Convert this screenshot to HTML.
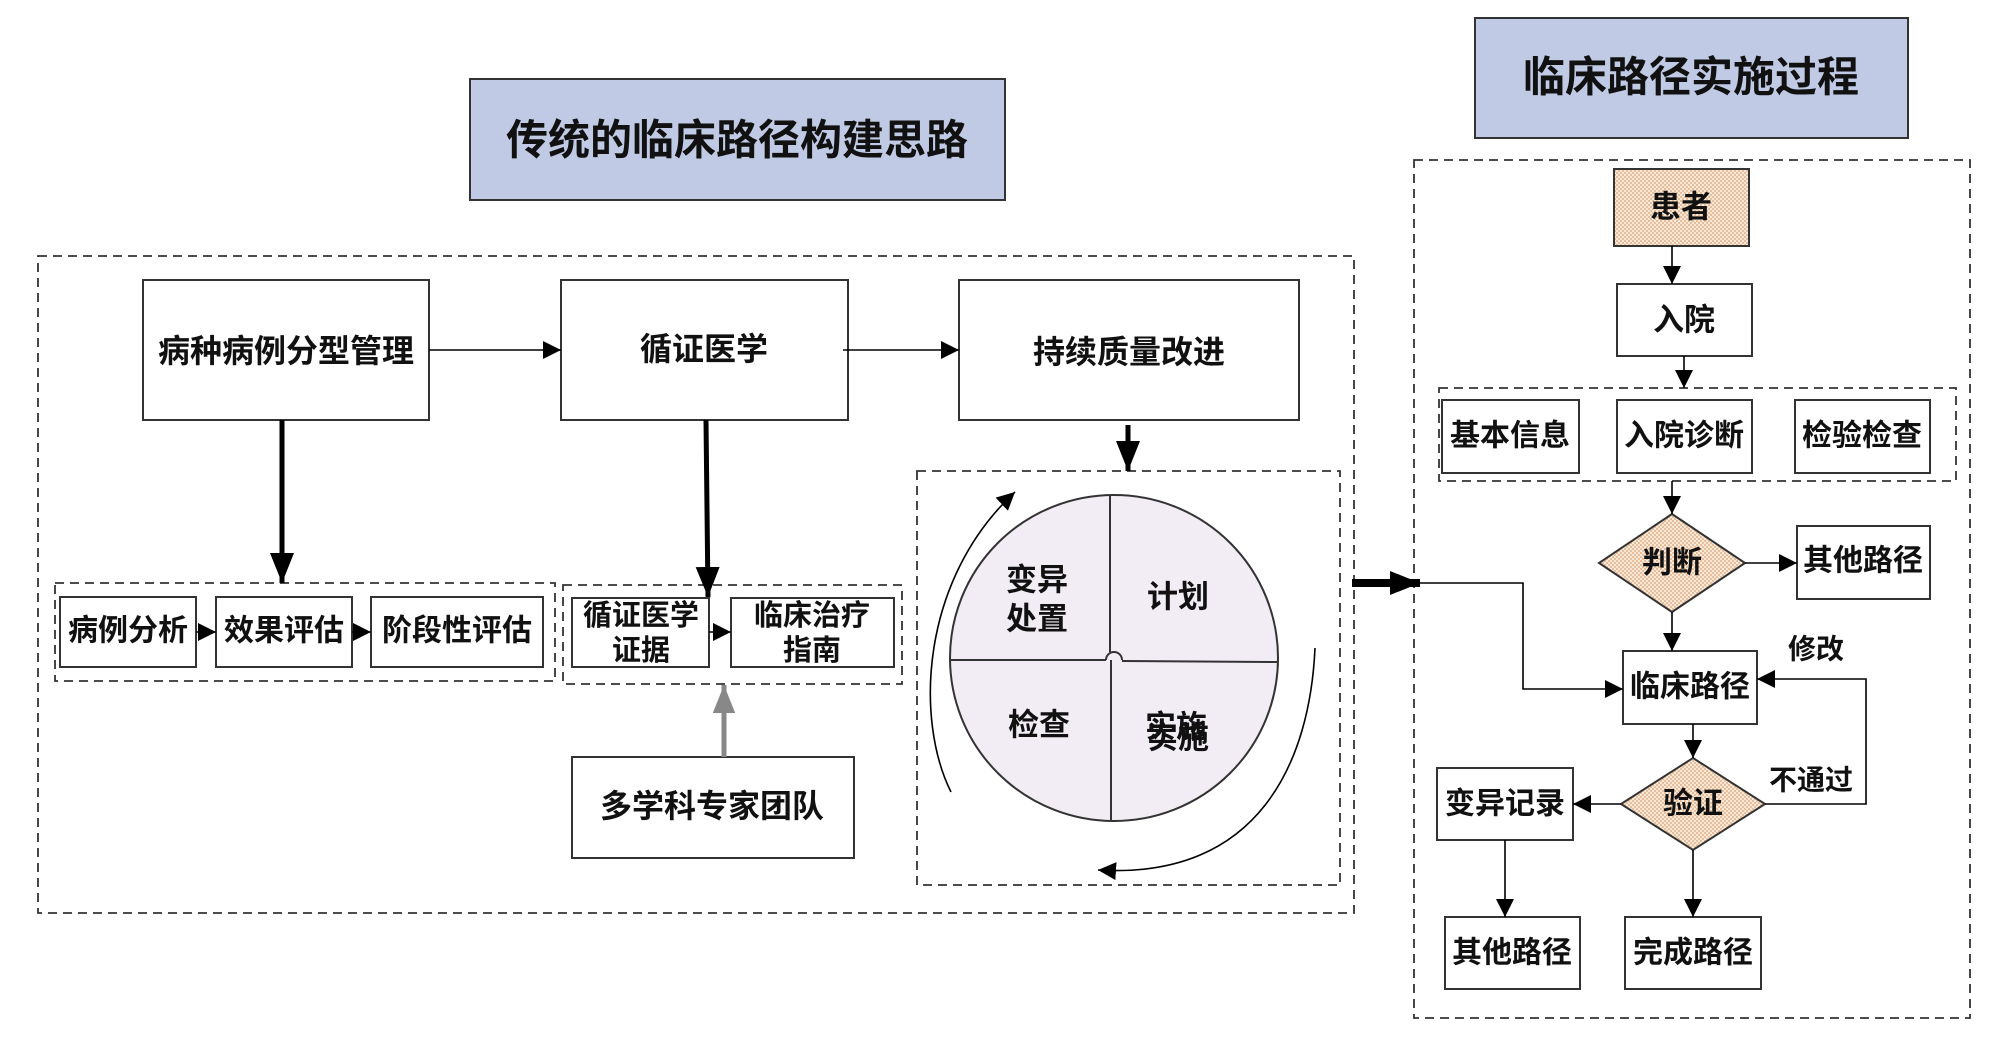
<!DOCTYPE html>
<html><head><meta charset="utf-8"><style>
html,body{margin:0;padding:0;background:#fff}
svg{display:block}
text{font-family:"Liberation Sans","Noto Sans CJK SC",sans-serif;fill:#111;text-anchor:middle;dominant-baseline:central;font-weight:600}
</style></head><body>
<svg width="2008" height="1052" viewBox="0 0 2008 1052" xmlns="http://www.w3.org/2000/svg">
<defs>
<marker id="a" viewBox="0 0 10 10" refX="10" refY="5" markerWidth="18" markerHeight="18" markerUnits="userSpaceOnUse" orient="auto"><path d="M0,0 L10,5 L0,10 z" fill="#000"/></marker>
<marker id="ab" viewBox="0 0 10 10" refX="10" refY="5" markerWidth="30" markerHeight="30" markerUnits="userSpaceOnUse" orient="auto"><path d="M0,1 L10,5 L0,9 z" fill="#000"/></marker>
<marker id="abb" viewBox="0 0 10 10" refX="10" refY="5" markerWidth="50" markerHeight="50" markerUnits="userSpaceOnUse" orient="auto"><path d="M0,1 L10,5 L0,9 z" fill="#000"/></marker>
<marker id="ag" viewBox="0 0 10 10" refX="10" refY="5" markerWidth="28" markerHeight="28" markerUnits="userSpaceOnUse" orient="auto"><path d="M0,1 L10,5 L0,9 z" fill="#888"/></marker>
<pattern id="dot" width="4" height="4" patternUnits="userSpaceOnUse"><rect width="4" height="4" fill="#f8e8d8"/><circle cx="1" cy="1" r="0.9" fill="#d9a070"/><circle cx="3" cy="3" r="0.9" fill="#d9a070"/></pattern>
</defs>
<g stroke="#333" stroke-width="2" fill="none">
<rect x="470" y="79" width="535" height="121" fill="#c1cae4"/>
<rect x="1475" y="18" width="433" height="120" fill="#c1cae4"/>
<g stroke-dasharray="9,6" stroke-width="1.8">
<rect x="38" y="256" width="1316" height="657"/>
<rect x="55" y="583" width="500" height="98"/>
<rect x="563" y="585" width="339" height="99"/>
<rect x="917" y="471" width="423" height="414"/>
<rect x="1414" y="160" width="556" height="858"/>
<rect x="1439" y="388" width="517" height="93"/>
</g>
<rect x="143" y="280" width="286" height="140" fill="#fff"/>
<rect x="561" y="280" width="287" height="140" fill="#fff"/>
<rect x="959" y="280" width="340" height="140" fill="#fff"/>
<rect x="60" y="597" width="136" height="70" fill="#fff"/>
<rect x="216" y="597" width="136" height="70" fill="#fff"/>
<rect x="371" y="597" width="172" height="70" fill="#fff"/>
<rect x="572" y="598" width="137" height="69" fill="#fff"/>
<rect x="731" y="598" width="163" height="69" fill="#fff"/>
<rect x="572" y="757" width="282" height="101" fill="#fff"/>
<rect x="1614" y="169" width="135" height="77" fill="url(#dot)"/>
<rect x="1617" y="284" width="135" height="72" fill="#fff"/>
<rect x="1442" y="400" width="137" height="73" fill="#fff"/>
<rect x="1617" y="400" width="135" height="73" fill="#fff"/>
<rect x="1795" y="400" width="135" height="73" fill="#fff"/>
<rect x="1797" y="526" width="133" height="73" fill="#fff"/>
<rect x="1623" y="651" width="134" height="73" fill="#fff"/>
<rect x="1437" y="768" width="136" height="72" fill="#fff"/>
<rect x="1445" y="917" width="135" height="72" fill="#fff"/>
<rect x="1625" y="917" width="136" height="72" fill="#fff"/>
<polygon points="1672,514 1745,563 1672,612 1599,563" fill="url(#dot)"/>
<polygon points="1693,758 1765,804 1693,850 1621,804" fill="url(#dot)"/>
<ellipse cx="1114" cy="658" rx="164" ry="163" fill="#f2ecf4"/>
<line x1="950" y1="660" x2="1106" y2="660"/>
<path d="M1106,660 A8,8 0 0 1 1122,660"/>
<line x1="1122" y1="661" x2="1278" y2="662"/>
<line x1="1110" y1="495" x2="1110" y2="652"/>
<line x1="1111" y1="660" x2="1111" y2="821"/>
</g>
<g stroke="#000" stroke-width="1.6" fill="none">
<line x1="429" y1="350" x2="561" y2="350" marker-end="url(#a)"/>
<line x1="843" y1="350" x2="959" y2="350" marker-end="url(#a)"/>
<line x1="196" y1="632" x2="216" y2="632" marker-end="url(#a)"/>
<line x1="352" y1="632" x2="371" y2="632" marker-end="url(#a)"/>
<line x1="709" y1="632" x2="731" y2="632" marker-end="url(#a)"/>
<line x1="1672" y1="246" x2="1672" y2="284" marker-end="url(#a)"/>
<line x1="1684" y1="356" x2="1684" y2="388" marker-end="url(#a)"/>
<line x1="1672" y1="481" x2="1672" y2="514" marker-end="url(#a)"/>
<line x1="1745" y1="563" x2="1797" y2="563" marker-end="url(#a)"/>
<line x1="1672" y1="612" x2="1672" y2="651" marker-end="url(#a)"/>
<line x1="1693" y1="724" x2="1693" y2="758" marker-end="url(#a)"/>
<line x1="1621" y1="804" x2="1573" y2="804" marker-end="url(#a)"/>
<polyline points="1765,804 1866,804 1866,679 1757,679" marker-end="url(#a)"/>
<line x1="1505" y1="840" x2="1505" y2="917" marker-end="url(#a)"/>
<line x1="1693" y1="850" x2="1693" y2="917" marker-end="url(#a)"/>
<polyline points="1400,583 1523,583 1523,689 1623,689" marker-end="url(#a)"/>
<path d="M951,792 C915,720 920,580 1015,492" marker-end="url(#a)"/>
<path d="M1315,648 C1310,760 1260,880 1098,870" marker-end="url(#a)"/>
</g>
<g stroke="#000" stroke-width="5" fill="none">
<line x1="282" y1="420" x2="282" y2="583" marker-end="url(#ab)"/>
<line x1="706" y1="420" x2="708" y2="597" marker-end="url(#ab)"/>
<line x1="1128" y1="425" x2="1128" y2="471" marker-end="url(#ab)"/>
<line x1="1352" y1="583" x2="1420" y2="583" stroke-width="8" marker-end="url(#ab)"/>
</g>
<line x1="724" y1="757" x2="724" y2="685" stroke="#888" stroke-width="5" marker-end="url(#ag)"/>
<text x="737" y="140" font-size="42">传统的临床路径构建思路</text>
<text x="1691" y="77" font-size="42">临床路径实施过程</text>
<text x="286" y="351" font-size="32">病种病例分型管理</text>
<text x="704" y="349" font-size="32">循证医学</text>
<text x="1129" y="352" font-size="32">持续质量改进</text>
<text x="128" y="631" font-size="30">病例分析</text>
<text x="284" y="631" font-size="30">效果评估</text>
<text x="457" y="631" font-size="30">阶段性评估</text>
<text x="641" y="616" font-size="29">循证医学</text>
<text x="641" y="651" font-size="29">证据</text>
<text x="812" y="616" font-size="29">临床治疗</text>
<text x="812" y="651" font-size="29">指南</text>
<text x="712" y="806" font-size="32">多学科专家团队</text>
<text x="1037" y="580" font-size="31">变异</text>
<text x="1037" y="619" font-size="31">处置</text>
<text x="1178" y="597" font-size="31">计划</text>
<text x="1039" y="725" font-size="31">检查</text>
<text x="1176" y="727" font-size="31">实施</text>
<text x="1178" y="738" font-size="31">实施</text>
<text x="1681" y="207" font-size="31">患者</text>
<text x="1684" y="320" font-size="31">入院</text>
<text x="1510" y="436" font-size="30">基本信息</text>
<text x="1684" y="436" font-size="30">入院诊断</text>
<text x="1862" y="436" font-size="30">检验检查</text>
<text x="1672" y="563" font-size="30">判断</text>
<text x="1863" y="561" font-size="30">其他路径</text>
<text x="1816" y="649" font-size="28">修改</text>
<text x="1690" y="687" font-size="30">临床路径</text>
<text x="1693" y="804" font-size="30">验证</text>
<text x="1811" y="780" font-size="28">不通过</text>
<text x="1505" y="804" font-size="30">变异记录</text>
<text x="1512" y="953" font-size="30">其他路径</text>
<text x="1693" y="953" font-size="30">完成路径</text>
</svg>
</body></html>
